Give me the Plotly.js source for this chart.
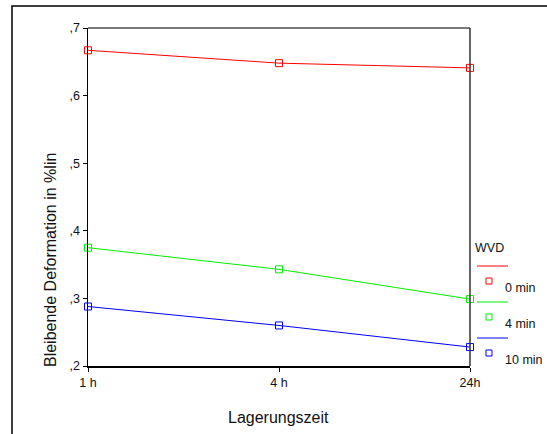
<!DOCTYPE html>
<html>
<head>
<meta charset="utf-8">
<script src="https://cdn.plot.ly/plotly-3.0.1.min.js"></script>
<style>
  html, body { margin: 0; padding: 0; background: #ffffff; }
  #chart { width: 547px; height: 434px; }
</style>
</head>
<body>
<div id="chart"></div>
<script>
// Storage time categories (x axis)
const storageTimes = ["1 h", "4 h", "24h"];

// Permanent deformation (%lin) per WVD group
const wvd0min  = [0.667, 0.648, 0.641];
const wvd4min  = [0.375, 0.343, 0.299];
const wvd10min = [0.288, 0.260, 0.228];

// Legend entries and colours
const groupNames  = ["0 min", "4 min", "10 min"];
const groupColors = ["#ff0000", "#00ee00", "#0000ff"];
const groupValues = [wvd0min, wvd4min, wvd10min];

// Y axis ticks
const yTickVals  = [0.2, 0.3, 0.4, 0.5, 0.6, 0.7];
const yTickText  = [",2", ",3", ",4", ",5", ",6", ",7"];

const W = 547, H = 434;
const M = { l: 88, r: 77, t: 28, b: 68 };
const plotW = W - M.l - M.r;
const plotH = H - M.t - M.b;
// pixel -> paper coordinates
const px = x => (x - M.l) / plotW;
const py = y => (H - M.b - y) / plotH;

const FONT = "Liberation Sans, Arial, sans-serif";

const traces = groupValues.map((vals, i) => ({
  type: "scatter",
  mode: "lines+markers",
  x: storageTimes,
  y: vals,
  name: groupNames[i],
  cliponaxis: false,
  line: { color: groupColors[i], width: 1 },
  marker: { symbol: "square-open", size: 7, color: groupColors[i], line: { width: 1 } },
  showlegend: false
}));

const shapes = [
  // outer frame
  { type: "rect", xref: "paper", yref: "paper",
    x0: px(12), y0: py(445), x1: px(560), y1: py(6),
    line: { color: "#000000", width: 1.5 } },
  // top edge of plot box
  { type: "line", xref: "paper", yref: "paper",
    x0: 0, x1: 1, y0: 1, y1: 1,
    line: { color: "#7a7a7a", width: 2 } },
  // right edge of plot box
  { type: "line", xref: "paper", yref: "paper",
    x0: 1, x1: 1, y0: 0, y1: 1,
    line: { color: "#333333", width: 1.5 } }
];

const annotations = [
  { text: "Bleibende Deformation in %lin", xref: "paper", yref: "paper",
    x: px(50), y: py(260), textangle: -90, showarrow: false,
    xanchor: "center", yanchor: "middle",
    font: { family: FONT, size: 16, color: "#111111" } },
  { text: "Lagerungszeit", xref: "paper", yref: "paper",
    x: px(278), y: py(418), showarrow: false,
    xanchor: "center", yanchor: "middle",
    font: { family: FONT, size: 16, color: "#111111" } },
  { text: "WVD", xref: "paper", yref: "paper",
    x: px(473), y: py(248), showarrow: false,
    xanchor: "left", yanchor: "middle",
    font: { family: FONT, size: 12.5, color: "#111111" } }
];

// Legend: a line sample, then a marker sample, then the label
groupNames.forEach((name, i) => {
  const lineY = 266 + i * 36;
  shapes.push({ type: "line", xref: "paper", yref: "paper",
    x0: px(477), x1: px(508), y0: py(lineY), y1: py(lineY),
    line: { color: groupColors[i], width: 1 } });
  const sqY = lineY + 15, sqX = 489, half = 3;
  shapes.push({ type: "rect", xref: "paper", yref: "paper",
    x0: px(sqX - half), x1: px(sqX + half), y0: py(sqY + half), y1: py(sqY - half),
    line: { color: groupColors[i], width: 1 } });
  annotations.push({ text: name, xref: "paper", yref: "paper",
    x: px(503), y: py(lineY + 22), showarrow: false,
    xanchor: "left", yanchor: "middle",
    font: { family: FONT, size: 12.5, color: "#111111" } });
});

const layout = {
  width: W, height: H,
  margin: M,
  paper_bgcolor: "#ffffff",
  plot_bgcolor: "#ffffff",
  font: { family: FONT, size: 12.5, color: "#111111" },
  showlegend: false,
  xaxis: {
    type: "category",
    range: [0, 2],
    showgrid: false, zeroline: false,
    showline: true, linecolor: "#000000", linewidth: 1.5,
    ticks: "outside", ticklen: 4, tickwidth: 1, tickcolor: "#000000",
    tickfont: { family: FONT, size: 12.5, color: "#111111" }
  },
  yaxis: {
    range: [0.2, 0.7],
    tickvals: yTickVals, ticktext: yTickText,
    showgrid: false, zeroline: false,
    showline: true, linecolor: "#000000", linewidth: 1.5,
    ticks: "outside", ticklen: 4, tickwidth: 1, tickcolor: "#000000",
    tickfont: { family: FONT, size: 12.5, color: "#111111" }
  },
  shapes: shapes,
  annotations: annotations
};

Plotly.newPlot("chart", traces, layout, { displayModeBar: false, staticPlot: true });
</script>
</body>
</html>
